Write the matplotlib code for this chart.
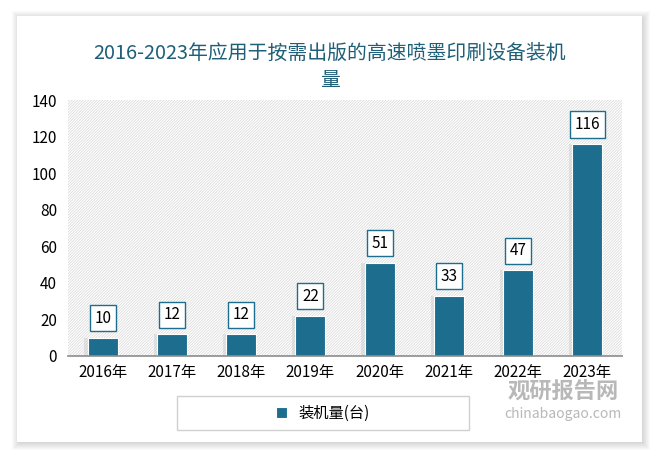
import matplotlib
matplotlib.use("Agg")
import matplotlib.pyplot as plt
from matplotlib.patches import Rectangle

plt.rcParams['font.family'] = ['Noto Sans CJK SC', 'DejaVu Sans']
plt.rcParams['hatch.color'] = '#d6d6d6'
plt.rcParams['hatch.linewidth'] = 0.5

# data
years = ['2016年', '2017年', '2018年', '2019年', '2020年', '2021年', '2022年', '2023年']
installs = [10, 12, 12, 22, 51, 33, 47, 116]
series_name = '装机量(台)'
title = '2016-2023年应用于按需出版的高速喷墨印刷设备装机\n量'

bar_color = '#1d6d8f'
title_color = '#1f5f78'

W, H = 659, 458
fig = plt.figure(figsize=(W / 100, H / 100), dpi=100)
fig.patch.set_facecolor('white')

# card with soft shadow
px0, py0, px1, py1 = 17, 16, 642, 442
for i in range(8, 0, -1):
    fig.patches.append(Rectangle(((px0 - i + 3) / W, 1 - (py1 + i) / H),
                                 (px1 - px0 + 2 * i - 3) / W, (py1 - py0 + 2 * i - 3) / H,
                                 transform=fig.transFigure, facecolor='#000000',
                                 alpha=0.018, edgecolor='none', zorder=0))
fig.patches.append(Rectangle((px0 / W, 1 - py1 / H), (px1 - px0) / W, (py1 - py0) / H,
                             transform=fig.transFigure, facecolor='white',
                             edgecolor='none', zorder=1))

fig.text(0.5, 1 - 67 / H, title, ha='center', va='center', fontsize=14.3,
         color=title_color, linespacing=1.35)

ax = fig.add_axes([68 / W, 1 - 356 / H, (622 - 68) / W, (356 - 100) / H])
ax.set_zorder(2)
ax.patch.set_facecolor('white')
ax.patch.set_hatch('////////////')
ax.patch.set_edgecolor('#d6d6d6')
ax.patch.set_linewidth(0)

x = range(len(years))
bars = ax.bar(x, installs, width=0.43, color=bar_color, edgecolor='white',
              linewidth=0.8, label=series_name, zorder=3)

# faint shadow to the left of each bar
for b in bars:
    ax.add_patch(Rectangle((b.get_x() - 0.05, 0), 0.05, b.get_height(),
                           facecolor='#b8b8b8', alpha=0.3, edgecolor='none', zorder=2))

for xi, v in zip(x, installs):
    ax.annotate(str(v), (xi, v), xytext=(0, 14), textcoords='offset points',
                ha='center', va='center', fontsize=11, color='black',
                bbox=dict(boxstyle='square,pad=0.3', facecolor='white',
                          edgecolor=bar_color, linewidth=1), zorder=4)

ax.set_ylim(0, 140)
ax.set_yticks(range(0, 141, 20))
ax.set_xlim(-0.5, len(years) - 0.5)
ax.set_xticks(list(x))
ax.set_xticklabels(years)
ax.tick_params(axis='y', length=0, labelsize=11, pad=8)
ax.tick_params(axis='x', length=0, labelsize=11, pad=6)
for s in ['top', 'right', 'left']:
    ax.spines[s].set_visible(False)
ax.spines['bottom'].set_color('#8c8c8c')
ax.spines['bottom'].set_linewidth(1.2)
ax.spines['bottom'].set_zorder(5)

# legend frame drawn as a box, legend itself centered inside it
fig.patches.append(Rectangle((177 / W, 1 - 430 / H), 292 / W, 34 / H,
                             transform=fig.transFigure, facecolor='white',
                             edgecolor='#d0d0d0', linewidth=1, zorder=2))
leg = fig.legend(handles=[bars], labels=[series_name], loc='center',
                 bbox_to_anchor=(323 / W, 1 - 413 / H), frameon=False,
                 fontsize=11, handlelength=0.7, handleheight=0.7)
leg.set_zorder(3)

# watermark
fig.text(563 / W, 1 - 392 / H, '观研报告网', ha='center', va='center', fontsize=16,
         color='#9a9a9a', alpha=0.7, weight='bold', zorder=6)
fig.text(563 / W, 1 - 414 / H, 'chinabaogao.com', ha='center', va='center', fontsize=10,
         color='#9a9a9a', alpha=0.7, zorder=6)

fig.savefig('out.png', dpi=100)
